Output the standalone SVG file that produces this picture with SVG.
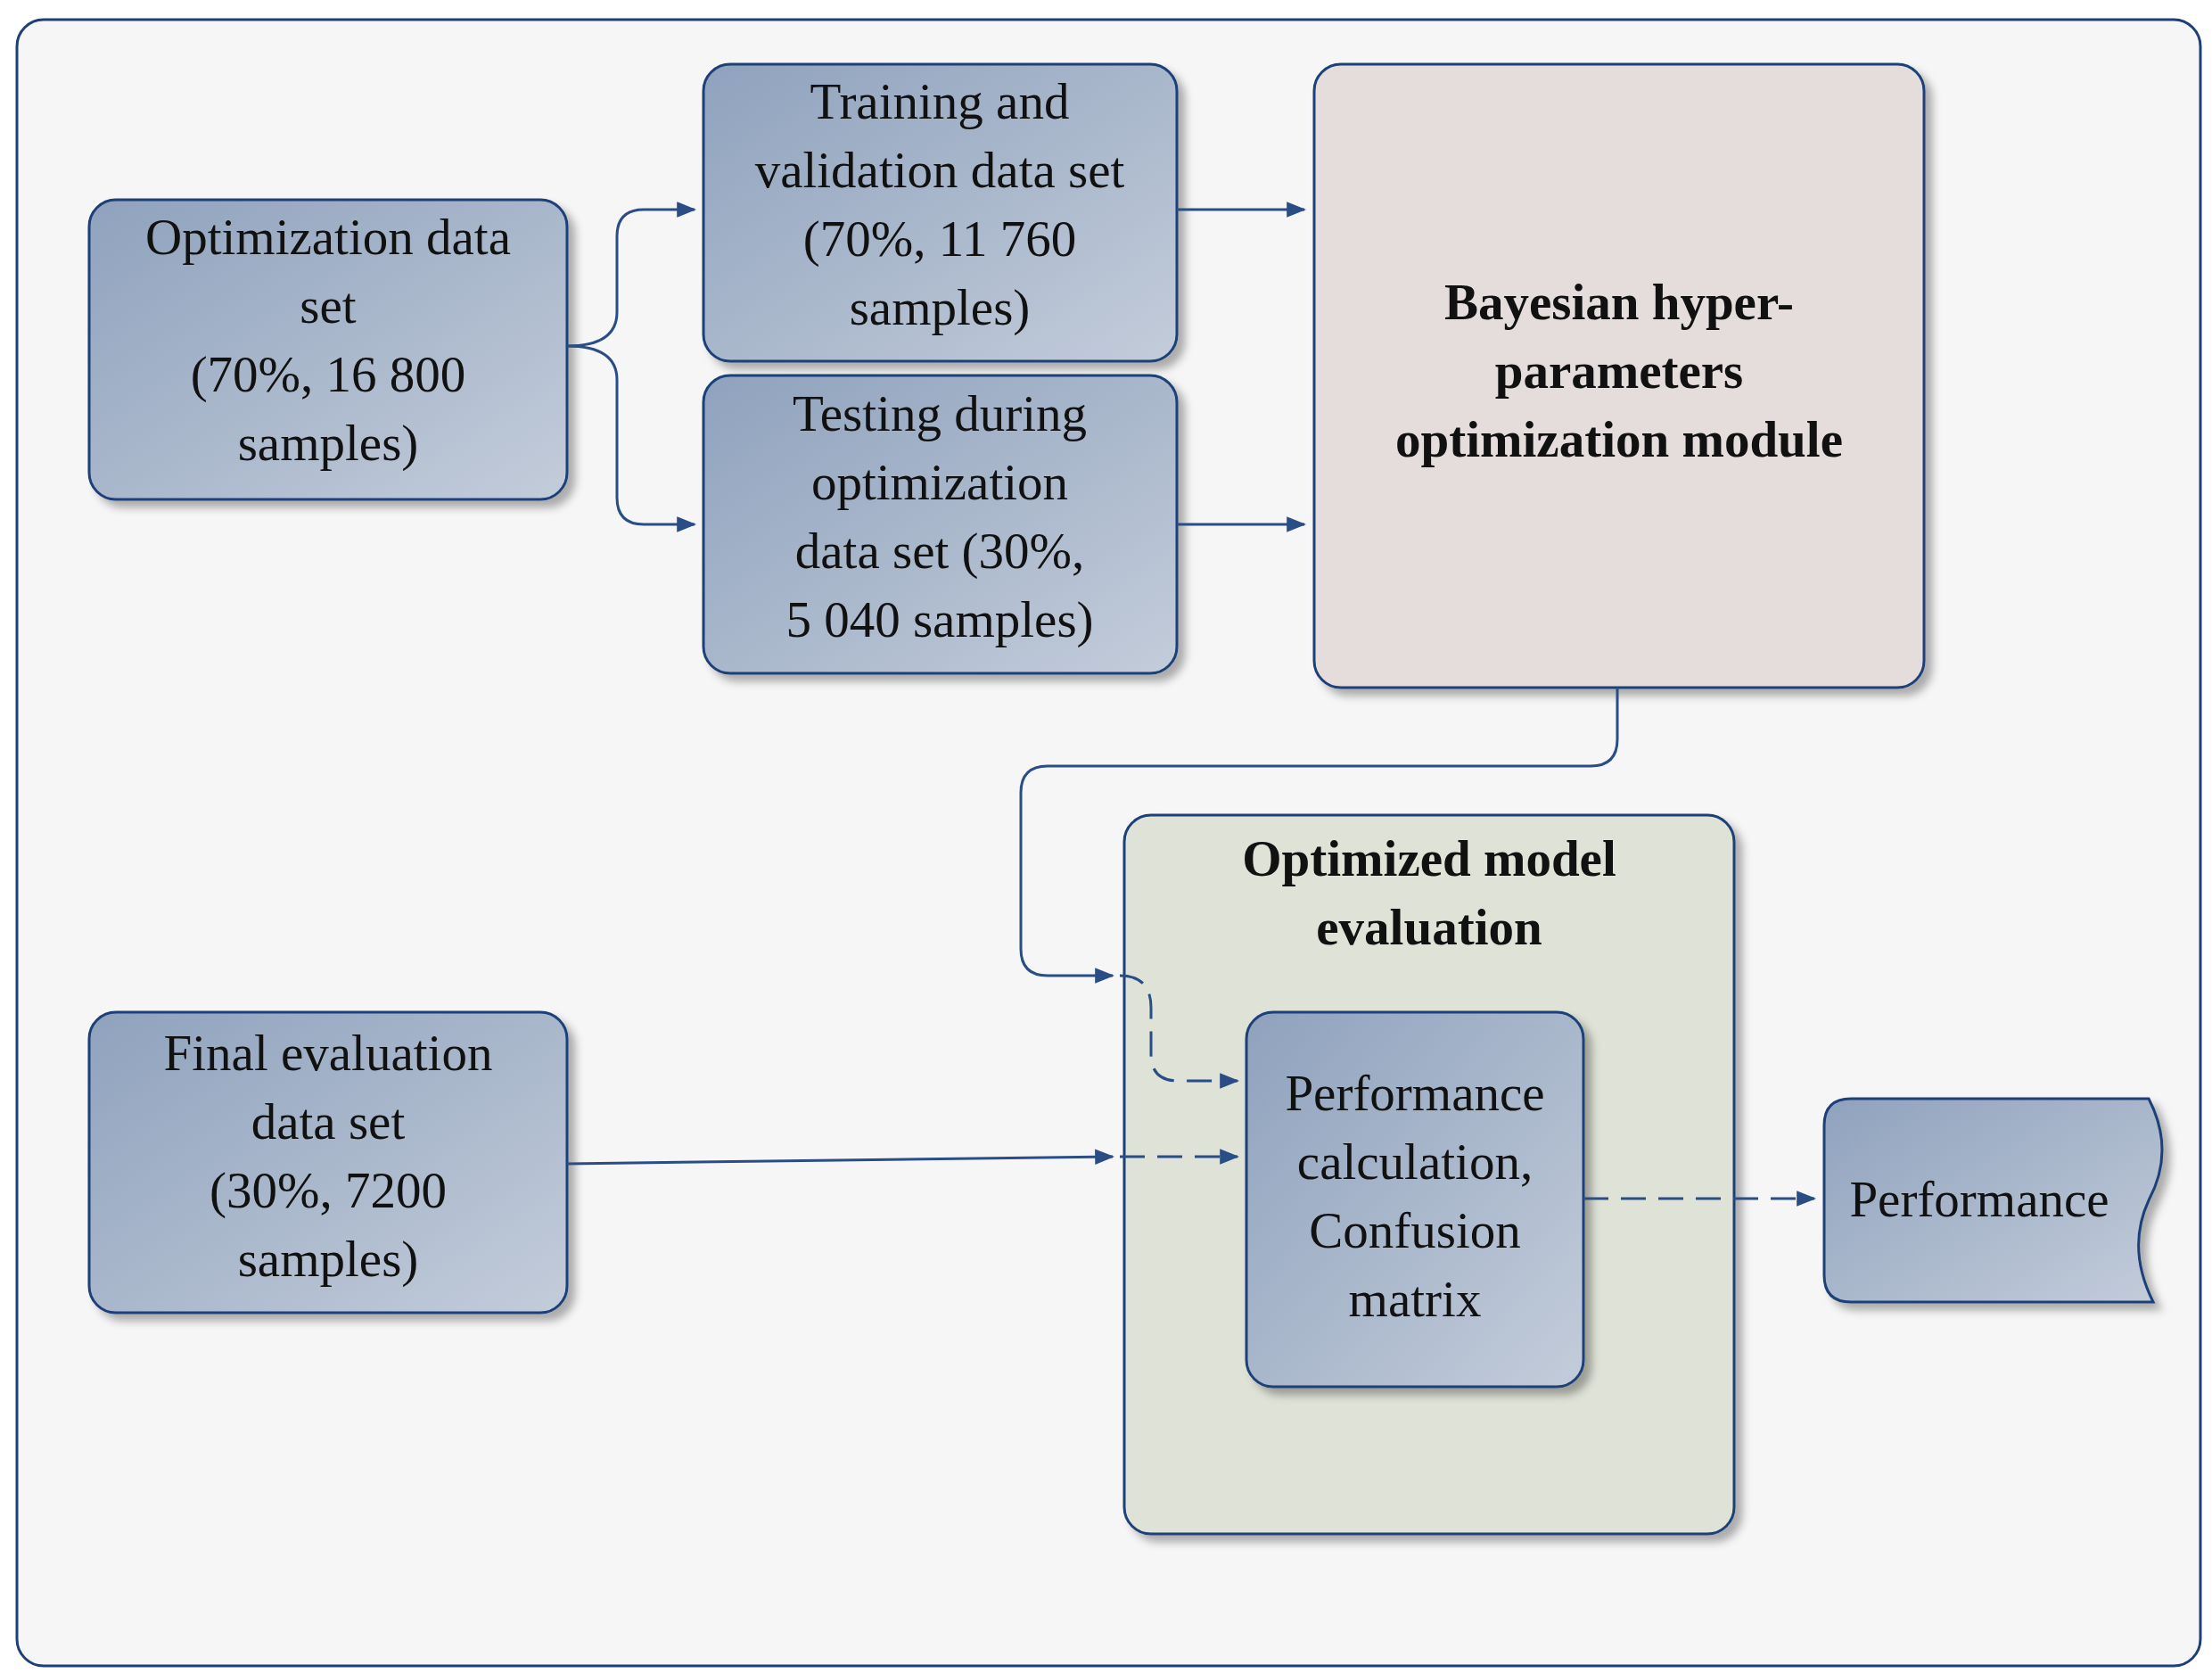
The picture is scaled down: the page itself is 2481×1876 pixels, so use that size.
<svg xmlns="http://www.w3.org/2000/svg" width="2481" height="1876" viewBox="0 0 2481 1876">
<defs>
<linearGradient id="bg" x1="0" y1="0" x2="1" y2="1"><stop offset="0" stop-color="#8fa2bd"/><stop offset="1" stop-color="#c3ccda"/></linearGradient>
<filter id="sh" x="-10%" y="-10%" width="130%" height="130%"><feDropShadow dx="8" dy="8" stdDeviation="5" flood-color="#000" flood-opacity="0.3"/></filter>
<marker id="ar" viewBox="0 0 10 10" refX="9" refY="5" markerWidth="7" markerHeight="7" orient="auto" markerUnits="userSpaceOnUse"><path d="M0,0L10,5L0,10z" fill="#2a4d85"/></marker>
<marker id="ar2" viewBox="0 0 10 10" refX="9" refY="5" markerWidth="22" markerHeight="22" orient="auto" markerUnits="userSpaceOnUse"><path d="M0,1L10,5L0,9z" fill="#2a4d85"/></marker>
<style>
.n{fill:url(#bg);stroke:#1f3f78;stroke-width:3;filter:url(#sh)}
.t{font-family:"Liberation Serif",serif;font-size:57px;fill:#111;text-anchor:middle}
.b{font-weight:bold}
.c{fill:none;stroke:#2a4d85;stroke-width:3}
.d{stroke-dasharray:28 14}
</style>
</defs>
<rect x="0" y="0" width="2481" height="1876" fill="#fff"/>
<rect x="19" y="22" width="2449" height="1846" rx="30" fill="#f6f6f6" stroke="#1f3f78" stroke-width="3"/>
<g id="opt"><rect class="n" x="100" y="224" width="536" height="336" rx="30"/>
<text class="t" x="368" y="285">Optimization data</text><text class="t" x="368" y="362">set</text><text class="t" x="368" y="439">(70%,  16 800</text><text class="t" x="368" y="516">samples)</text></g>
<g id="train"><rect class="n" x="789" y="72" width="531" height="333" rx="30"/>
<text class="t" x="1054" y="133">Training and</text><text class="t" x="1054" y="210">validation data set</text><text class="t" x="1054" y="287">(70%,  11 760</text><text class="t" x="1054" y="364">samples)</text></g>
<g id="test"><rect class="n" x="789" y="421" width="531" height="334" rx="30"/>
<text class="t" x="1054" y="483">Testing during</text><text class="t" x="1054" y="560">optimization</text><text class="t" x="1054" y="637">data set (30%,</text><text class="t" x="1054" y="714">5 040 samples)</text></g>
<g id="bayes"><rect x="1474" y="72" width="684" height="699" rx="30" fill="#e5dcdc" stroke="#1f3f78" stroke-width="3" filter="url(#sh)"/>
<text class="t b" x="1816" y="358">Bayesian hyper-</text><text class="t b" x="1816" y="435">parameters</text><text class="t b" x="1816" y="512">optimization module</text></g>
<g id="evalg"><rect x="1261" y="914" width="684" height="806" rx="30" fill="#dfe2d6" stroke="#1f3f78" stroke-width="3" filter="url(#sh)"/>
<text class="t b" x="1603" y="982">Optimized model</text><text class="t b" x="1603" y="1059">evaluation</text></g>
<g id="perfcalc"><rect class="n" x="1398" y="1135" width="378" height="420" rx="30"/>
<text class="t" x="1587" y="1245">Performance</text><text class="t" x="1587" y="1322">calculation,</text><text class="t" x="1587" y="1399">Confusion</text><text class="t" x="1587" y="1476">matrix</text></g>
<g id="final"><rect class="n" x="100" y="1135" width="536" height="337" rx="30"/>
<text class="t" x="368" y="1200">Final evaluation</text><text class="t" x="368" y="1277">data set</text><text class="t" x="368" y="1354">(30%,  7200</text><text class="t" x="368" y="1431">samples)</text></g>
<g id="perf"><path class="n" d="M2076,1232 H2410 Q2440,1290 2410,1346 Q2385,1400 2415,1460 H2076 Q2046,1460 2046,1430 V1262 Q2046,1232 2076,1232Z"/>
<text class="t" x="2220" y="1364">Performance</text></g>
<g id="connectors">
<path class="c" d="M636,388 Q692,388 692,350 V265 Q692,235 722,235 H779" marker-end="url(#ar2)"/>
<path class="c" d="M636,388 Q692,388 692,426 V558 Q692,588 722,588 H779" marker-end="url(#ar2)"/>
<path class="c" d="M1320,235 H1463" marker-end="url(#ar2)"/>
<path class="c" d="M1320,588 H1463" marker-end="url(#ar2)"/>
<path class="c" d="M1814,771 V829 Q1814,859 1784,859 H1175 Q1145,859 1145,889 V1064 Q1145,1094 1175,1094 H1248" marker-end="url(#ar2)"/>
<path class="c d" d="M1256,1094 Q1291,1094 1291,1130 V1182 Q1291,1212 1321,1212 H1388" marker-end="url(#ar2)"/>
<path class="c" d="M636,1305 L1248,1297" marker-end="url(#ar2)"/>
<path class="c d" d="M1256,1297 H1388" marker-end="url(#ar2)"/>
<path class="c d" d="M1776,1344 H2035" marker-end="url(#ar2)"/>
</g>
</svg>
